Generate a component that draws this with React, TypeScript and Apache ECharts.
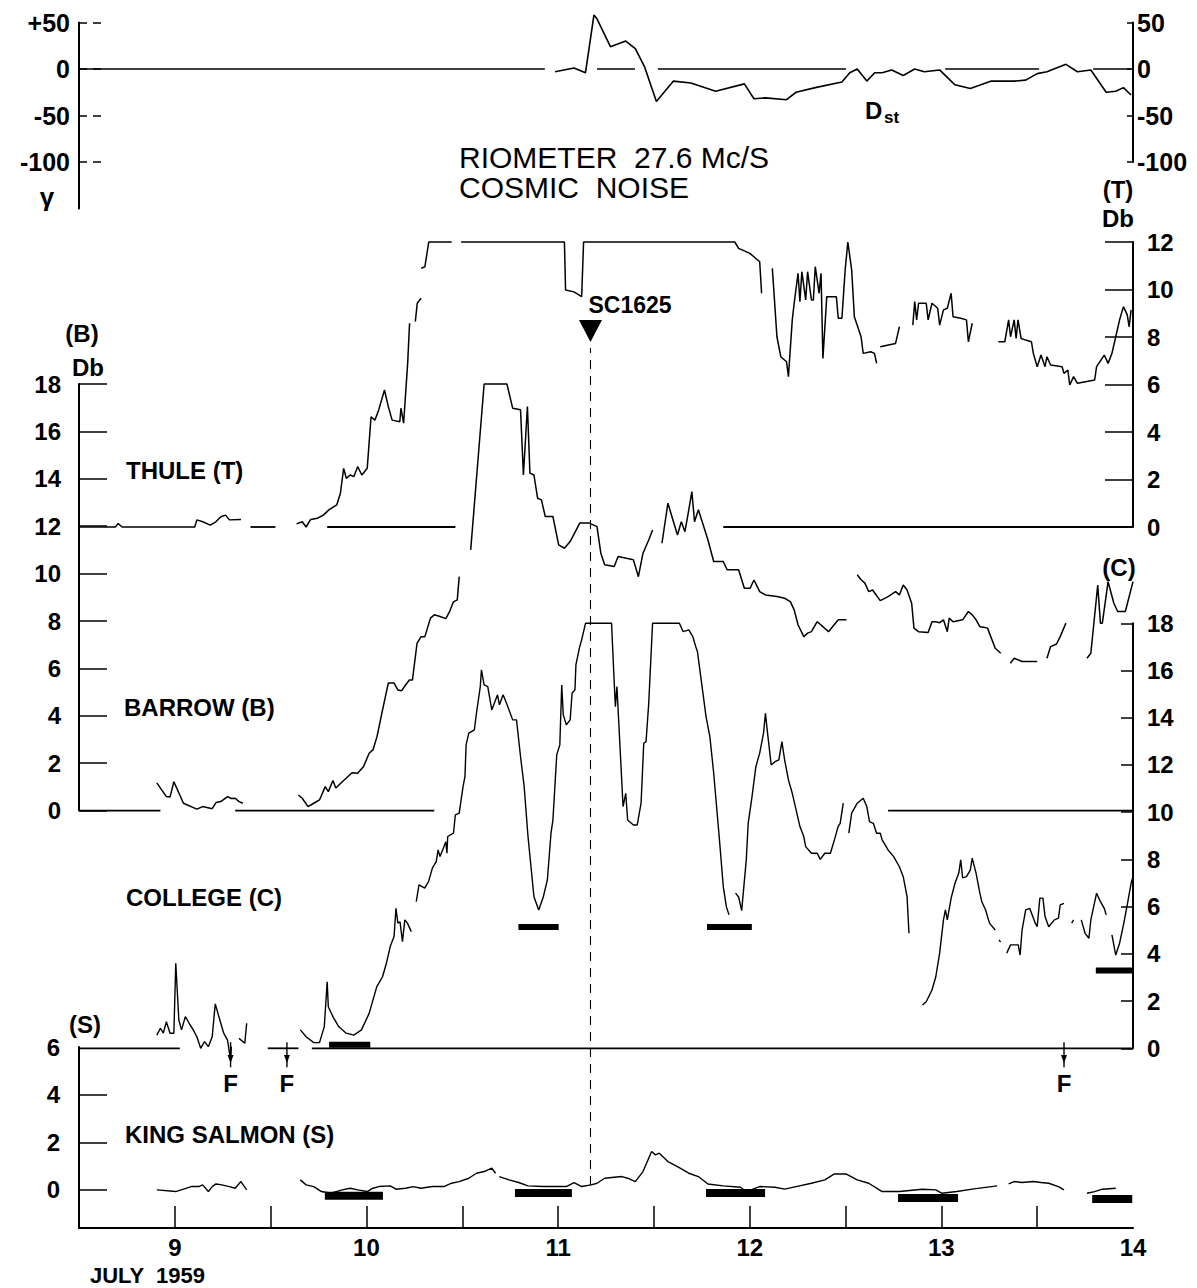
import React, { useEffect, useRef } from "react";
import * as echarts from "echarts";

// ---------- axes ----------
const X_MIN = 8.5;
const X_MAX = 14;
const dayTicks = [9, 9.5, 10, 10.5, 11, 11.5, 12, 12.5, 13, 13.5];
const dayLabels = [9, 10, 11, 12, 13, 14];
const dstTicks = [50, 0, -50, -100];
const thuleTicks = [0, 2, 4, 6, 8, 10, 12];
const barrowTicks = [0, 2, 4, 6, 8, 10, 12, 14, 16, 18];
const collegeTicks = [0, 2, 4, 6, 8, 10, 12, 14, 16, 18];
const salmonLabels = [0, 2, 4, 6];
const salmonTicks = [0, 2, 4];

// ---------- Dst (gamma) ----------
const dstSegments = [
  [[10.984, -3], [11.083, 1], [11.143, -4], [11.187, 58], [11.203, 54], [11.273, 24], [11.353, 30], [11.403, 22], [11.452, 2], [11.513, -35], [11.602, -13], [11.693, -15], [11.822, -24], [11.972, -16], [12.022, -32], [12.082, -31], [12.192, -33], [12.242, -25], [12.342, -20], [12.481, -14], [12.522, -4], [12.561, 0], [12.611, -13], [12.652, -4], [12.691, -4], [12.741, -1], [12.801, -7], [12.861, 0], [12.911, -3], [12.991, -1], [13.071, -17], [13.151, -21], [13.261, -13], [13.38, -13], [13.44, -12], [13.5, -5], [13.551, -3], [13.65, 5], [13.71, -3], [13.78, -1], [13.86, -25], [13.91, -24], [13.95, -20], [13.99, -28]],
];
const dstZero = [[8.5, 10.931], [11.203, 11.401], [11.521, 12.502], [13.02, 13.51], [13.792, 13.99]];

// ---------- Thule (T) ----------
const thuleSegments = [
  [[8.5, 0], [8.69, 0], [8.704, 0.15], [8.725, 0], [9.104, 0], [9.115, 0.3], [9.146, 0.22], [9.185, 0.08], [9.214, 0.22], [9.24, 0.43], [9.265, 0.5], [9.285, 0.3], [9.345, 0.32]],
  [[9.635, 0.13], [9.665, 0.22], [9.685, 0], [9.709, 0.32], [9.744, 0.37], [9.775, 0.5], [9.804, 0.72], [9.845, 0.93], [9.864, 1.42], [9.881, 2.47], [9.895, 2.05], [9.915, 2.19], [9.934, 2.12], [9.954, 2.54], [9.976, 2.19], [10.004, 2.47], [10.024, 4.64], [10.044, 4.5], [10.064, 4.93], [10.094, 5.77], [10.114, 5.07], [10.134, 4.5], [10.174, 4.43], [10.18, 5.0], [10.194, 4.37], [10.215, 6.89], [10.225, 8.58]],
  [[10.255, 8.65], [10.265, 9.42], [10.285, 9.63]],
  [[10.285, 10.89], [10.305, 10.96], [10.325, 12], [10.445, 12]],
  [[10.494, 12], [11.033, 12], [11.039, 9.98], [11.083, 9.9], [11.123, 9.7], [11.133, 12], [11.922, 12], [11.942, 11.73], [12.001, 11.52], [12.052, 11.17], [12.062, 9.84]],
  [[12.118, 10.89], [12.142, 8.01], [12.162, 7.17], [12.192, 6.96], [12.202, 6.33], [12.222, 8.72], [12.232, 9.42], [12.252, 10.68], [12.262, 9.49], [12.272, 10.75], [12.292, 9.56], [12.302, 10.75], [12.322, 9.56], [12.332, 9.56], [12.342, 10.96], [12.362, 9.84], [12.372, 10.68], [12.382, 7.1], [12.402, 9.7], [12.452, 9.7], [12.462, 8.79], [12.481, 8.79], [12.498, 10.82], [12.512, 12], [12.532, 10.82], [12.546, 8.85], [12.581, 8.01], [12.592, 7.31], [12.631, 7.38], [12.651, 7.31], [12.662, 6.89]],
  [[12.681, 7.59], [12.761, 7.73], [12.781, 8.43]],
  [[12.851, 8.5], [12.861, 9.49], [12.871, 8.72], [12.881, 9.42], [12.921, 9.42], [12.931, 8.72], [12.951, 9.42], [12.981, 9.21], [12.991, 8.5], [13.011, 9.14], [13.031, 9.21], [13.051, 9.84], [13.061, 8.85], [13.101, 8.79], [13.131, 8.72], [13.141, 7.8], [13.161, 8.58]],
  [[13.297, 7.8], [13.331, 7.8], [13.351, 8.72], [13.361, 8.01], [13.38, 8.72], [13.39, 7.94], [13.4, 8.72], [13.416, 7.94], [13.44, 7.87], [13.47, 7.8], [13.48, 7.31], [13.5, 6.75], [13.52, 7.24], [13.541, 6.75], [13.551, 7.17], [13.57, 6.82], [13.63, 6.75], [13.64, 6.47], [13.66, 6.61], [13.67, 5.98], [13.69, 6.33], [13.71, 6.05], [13.78, 6.16], [13.8, 6.19], [13.81, 6.75], [13.85, 7.24], [13.87, 6.89], [13.89, 7.31], [13.91, 8.01], [13.93, 8.72], [13.95, 9.28], [13.97, 8.93], [13.98, 8.43], [13.99, 9.14]],
];
const thuleBase = [[9.395, 9.525], [9.795, 10.464], [11.862, 14.0]];

// ---------- Barrow (B) ----------
const barrowSegments = [
  [[8.906, 1.17], [8.956, 0.59], [8.975, 0.57], [8.995, 1.22], [9.026, 0.66], [9.045, 0.31], [9.115, 0.06], [9.145, 0.17], [9.195, 0.08], [9.215, 0.34], [9.24, 0.38], [9.275, 0.59], [9.295, 0.51], [9.315, 0.52], [9.335, 0.38], [9.355, 0.31]],
  [[9.645, 0.66], [9.665, 0.52], [9.695, 0.17], [9.725, 0.31], [9.755, 0.45], [9.785, 1.01], [9.801, 0.8], [9.825, 1.27], [9.84, 0.95], [9.874, 1.22], [9.925, 1.6], [9.954, 1.58], [9.985, 1.86], [10.014, 2.42], [10.034, 2.56], [10.055, 3.12], [10.084, 4.25], [10.114, 5.38], [10.144, 5.38], [10.164, 5.09], [10.184, 5.06], [10.204, 5.3], [10.224, 5.51], [10.24, 5.51], [10.264, 7.06], [10.285, 7.34], [10.305, 7.34], [10.334, 8.12], [10.354, 8.26], [10.384, 8.19], [10.414, 8.1], [10.434, 8.4], [10.454, 8.81], [10.474, 8.89], [10.484, 9.87]],
  [[10.544, 11.0], [10.614, 18], [10.733, 18], [10.763, 16.98], [10.804, 16.91], [10.819, 14.16], [10.84, 17.05], [10.853, 14.24], [10.874, 14.16], [10.893, 13.18], [10.913, 13.11], [10.933, 12.41], [10.973, 12.41], [11.003, 11.21], [11.033, 11.07], [11.063, 11.35], [11.113, 12.13], [11.163, 12.13], [11.203, 11.98], [11.223, 10.86], [11.243, 10.37], [11.293, 10.3], [11.313, 10.72], [11.393, 10.58], [11.419, 9.87], [11.443, 10.86], [11.473, 11.42], [11.493, 11.84]],
  [[11.542, 11.28], [11.573, 12.97], [11.602, 12.19], [11.623, 11.63], [11.643, 12.19], [11.662, 11.77], [11.682, 12.69], [11.698, 13.46], [11.712, 12.19], [11.732, 12.69], [11.752, 12.19], [11.782, 11.42], [11.812, 10.51], [11.862, 10.51], [11.882, 10.16], [11.942, 10.16], [11.972, 9.38], [12.002, 9.38], [12.022, 9.73], [12.052, 9.24], [12.082, 9.1], [12.142, 9.03], [12.182, 8.96], [12.212, 8.82], [12.232, 8.47], [12.252, 7.84], [12.282, 7.34], [12.302, 7.49], [12.322, 7.55], [12.352, 7.97], [12.382, 7.76], [12.411, 7.55], [12.462, 8.05], [12.505, 8.05]],
  [[12.561, 9.95], [12.581, 9.74], [12.601, 9.6], [12.621, 9.24], [12.641, 9.31], [12.681, 8.86], [12.722, 9.03], [12.761, 9.24], [12.781, 9.1], [12.801, 9.52], [12.821, 9.31], [12.845, 8.75], [12.857, 7.7], [12.881, 7.55], [12.931, 7.51], [12.951, 7.97], [12.971, 7.97], [12.991, 7.93], [13.011, 8.05], [13.031, 7.55], [13.041, 8.12], [13.061, 7.97], [13.111, 8.05], [13.141, 8.4], [13.161, 8.26], [13.181, 8.05], [13.201, 7.76], [13.221, 7.74], [13.241, 7.7], [13.281, 6.85], [13.31, 6.64]],
  [[13.36, 6.22], [13.38, 6.43], [13.421, 6.29], [13.5, 6.29]],
  [[13.551, 6.43], [13.57, 6.92], [13.601, 7.03], [13.62, 7.34], [13.65, 7.91]],
  [[13.76, 6.43], [13.78, 6.64], [13.816, 9.52], [13.83, 7.91], [13.84, 7.91], [13.87, 9.66], [13.9, 8.75], [13.92, 8.4], [13.96, 8.4], [14.0, 9.66]],
];
const barrowBase = [[8.5, 8.925], [9.315, 10.354], [12.722, 14.0]];

// ---------- College (C) ----------
const collegeSegments = [
  [[8.906, 0.56], [8.925, 0.85], [8.94, 0.64], [8.956, 1.13], [8.975, 0.64], [8.995, 0.64], [9.005, 3.6], [9.021, 1.2], [9.035, 0.78], [9.055, 1.34], [9.075, 1.06], [9.096, 0.78], [9.115, 0.49], [9.135, 0], [9.155, 0.28], [9.175, 0.07], [9.195, 0.49], [9.211, 1.88], [9.235, 1.2], [9.255, 0.64], [9.275, 0.35], [9.291, -0.5], [9.295, 0.07]],
  [[9.335, 0.42], [9.365, 0.21], [9.375, 1.06]],
  [[9.655, 0.78], [9.685, 0.49], [9.725, 0.24], [9.755, 0.24], [9.78, 0.92], [9.795, 2.82], [9.801, 1.76], [9.825, 1.34], [9.855, 0.92], [9.894, 0.64], [9.934, 0.56], [9.974, 0.78], [10.014, 1.48], [10.054, 2.61], [10.084, 3.03], [10.104, 3.6], [10.124, 4.31], [10.144, 4.73], [10.154, 5.93], [10.164, 5.3], [10.175, 5.36], [10.188, 4.52], [10.2, 5.44], [10.214, 5.3], [10.234, 4.94]],
  [[10.26, 6.21], [10.274, 6.92], [10.304, 6.78], [10.324, 7.06], [10.344, 7.63], [10.364, 7.91], [10.374, 8.4], [10.384, 8.12], [10.404, 8.54], [10.414, 8.75], [10.42, 8.26], [10.424, 8.97], [10.454, 9.11], [10.464, 9.89], [10.484, 9.96], [10.504, 11.08], [10.514, 11.51], [10.52, 12.85], [10.534, 13.35], [10.563, 13.49], [10.574, 14.19], [10.594, 15.32], [10.6, 16.03], [10.614, 15.39], [10.633, 15.32], [10.654, 14.33], [10.684, 14.97], [10.694, 14.55], [10.713, 14.97], [10.734, 14.55], [10.763, 13.91], [10.783, 13.91], [10.804, 12.36], [10.823, 11.08], [10.843, 8.97], [10.874, 6.42], [10.899, 5.86], [10.923, 6.42], [10.944, 7.13], [10.963, 9.11], [10.973, 9.67], [10.993, 12.43], [11.009, 12.85], [11.019, 15.39], [11.027, 14.12], [11.043, 13.7], [11.063, 13.91], [11.073, 15.04], [11.088, 15.18], [11.093, 16.24], [11.113, 17.02], [11.123, 17.3], [11.143, 18], [11.279, 18], [11.293, 15.47], [11.299, 14.47], [11.307, 15.32], [11.323, 12.78], [11.339, 10.24], [11.353, 10.8], [11.363, 9.67], [11.393, 9.46], [11.413, 9.46], [11.433, 10.38], [11.447, 12.92], [11.459, 12.99], [11.473, 14.62], [11.493, 18], [11.633, 18], [11.652, 17.65], [11.682, 17.72], [11.703, 17.44], [11.718, 17.02], [11.727, 16.81], [11.742, 15.89], [11.772, 14.05], [11.792, 13.2], [11.812, 11.65], [11.842, 8.83], [11.862, 6.85], [11.878, 6.0], [11.892, 5.65]],
  [[11.926, 6.57], [11.942, 6.41], [11.958, 5.83], [11.982, 7.98], [11.992, 9.53], [12.012, 10.66], [12.032, 11.93], [12.052, 12.5], [12.072, 13.35], [12.082, 14.19], [12.092, 13.42], [12.112, 12.0], [12.132, 12.14], [12.152, 12.22], [12.168, 12.99], [12.182, 12.22], [12.202, 11.37], [12.222, 10.8], [12.242, 10.1], [12.262, 9.39], [12.282, 8.97], [12.292, 8.54], [12.322, 8.26], [12.352, 8.26], [12.368, 8.0], [12.392, 8.26], [12.421, 8.26], [12.442, 8.83], [12.461, 9.39], [12.472, 9.53], [12.488, 10.38]],
  [[12.517, 9.11], [12.532, 9.96], [12.561, 10.38], [12.592, 10.59], [12.611, 10.24], [12.625, 9.6], [12.645, 9.53], [12.662, 9.11], [12.681, 9.11], [12.691, 8.83], [12.722, 8.4], [12.751, 8.12], [12.781, 7.69], [12.801, 7.27], [12.821, 6.42], [12.831, 4.87]],
  [[12.901, 1.83], [12.921, 1.97], [12.951, 2.47], [12.971, 3.03], [12.991, 4.03], [13.011, 5.44], [13.021, 5.86], [13.031, 5.44], [13.051, 6.36], [13.071, 6.99], [13.091, 7.42], [13.101, 7.98], [13.111, 7.22], [13.131, 7.27], [13.151, 7.55], [13.161, 8.05], [13.181, 7.42], [13.201, 6.57], [13.211, 6.21], [13.231, 5.86], [13.251, 5.3], [13.281, 5.01]],
  [[13.301, 4.59], [13.309, 4.5]],
  [[13.341, 4.03], [13.361, 4.38], [13.401, 4.38], [13.411, 3.95], [13.421, 5.01], [13.44, 5.86], [13.461, 5.93], [13.49, 5.3], [13.5, 5.15], [13.514, 6.36], [13.53, 6.36], [13.541, 5.58], [13.56, 5.15], [13.59, 5.44], [13.611, 5.51], [13.62, 6.07], [13.64, 6.14]],
  [[13.68, 5.3], [13.69, 5.44]],
  [[13.73, 5.44], [13.75, 4.87], [13.77, 4.66], [13.78, 5.44], [13.81, 6.57], [13.83, 6.21], [13.85, 5.93], [13.86, 5.65]],
  [[13.89, 4.8], [13.91, 3.95], [13.93, 4.45], [13.95, 5.22], [13.97, 6.07], [13.99, 6.99], [14.0, 7.27]],
];
const collegeBase = [[8.5, 9.026], [9.485, 9.645], [9.715, 14.0]];
const collegeBars = [[9.805, 10.02, 0.15], [10.793, 11.003, 5.14], [11.777, 12.011, 5.14], [13.806, 14.0, 3.29]];

// ---------- King Salmon (S) ----------
const salmonSegments = [
  [[8.906, 0], [9.005, -0.07], [9.045, 0.03], [9.086, 0.14], [9.125, 0.14], [9.145, 0.21], [9.175, -0.07], [9.195, 0.14], [9.215, 0.25], [9.245, 0.21], [9.285, 0.14], [9.315, 0.07], [9.345, 0.35], [9.375, 0]],
  [[9.655, 0.42], [9.685, 0.21], [9.725, 0.14], [9.765, -0.07], [9.814, -0.14], [9.874, 0], [9.915, 0.07], [9.954, 0], [10.004, -0.07], [10.034, 0.07], [10.064, 0.14], [10.124, 0.17], [10.154, 0.03], [10.204, 0.07], [10.244, 0.14], [10.284, 0.07], [10.344, 0.14], [10.404, 0.14], [10.444, 0.28], [10.484, 0.35], [10.534, 0.49], [10.574, 0.7], [10.614, 0.77], [10.654, 0.91], [10.674, 0.7]],
  [[10.693, 0.56], [10.744, 0.42], [10.794, 0.31], [10.843, 0.17], [10.923, 0.14], [10.984, 0.14], [11.043, 0.14], [11.083, 0.31], [11.123, 0.14], [11.173, 0.21], [11.203, 0.28], [11.243, 0.49], [11.293, 0.53], [11.333, 0.56], [11.363, 0.49], [11.403, 0.35], [11.443, 0.77], [11.488, 1.61], [11.508, 1.47], [11.528, 1.54], [11.573, 1.19], [11.623, 0.98], [11.682, 0.7], [11.732, 0.56], [11.782, 0.25], [11.862, 0.17], [11.952, 0.11], [11.982, -0.07], [12.052, 0.14], [12.132, 0.11], [12.182, 0.03], [12.242, 0.14], [12.322, 0.28], [12.392, 0.42], [12.442, 0.67], [12.502, 0.67], [12.561, 0.42], [12.621, 0.28], [12.691, -0.07], [12.781, -0.07], [12.901, 0.03], [12.971, 0], [13.001, -0.14], [13.081, -0.07], [13.161, 0.03], [13.291, 0.17]],
  [[13.351, 0.25], [13.38, 0.35], [13.421, 0.31], [13.48, 0.35], [13.52, 0.31], [13.56, 0.28], [13.611, 0.14], [13.64, 0]],
  [[13.76, -0.14], [13.8, -0.07], [13.84, 0.03], [13.91, 0.07]],
];
const salmonBars = [[9.783, 10.086, -0.25], [10.775, 11.072, -0.13], [11.772, 12.08, -0.13], [12.774, 13.087, -0.34], [13.787, 13.996, -0.38]];

// ---------- events ----------
const SC_DAY = 11.169;
const SC_TRIANGLE_T = 8.25;
const SC_LABEL = [11.156, 9.35];
const fDays = [9.291, 9.585, 13.64];

const FONT = "Liberation Sans";
const BLACK = "#000";

function buildOption() {
  const L = 79;
  const R = 64;
  const grids = [
    { top: 22.5, height: 186 }, // 0 Dst left
    { top: 22.5, height: 139.5 }, // 1 Dst right
    { top: 242, height: 285 }, // 2 Thule
    { top: 384, height: 426.6 }, // 3 Barrow
    { top: 623.3, height: 425 }, // 4 College
    { top: 1047, height: 181 }, // 5 King Salmon
    { top: 348, height: 837 }, // 6 overlay (SC line)
  ].map((g) => ({ left: L, right: R, top: g.top, height: g.height, containLabel: false, show: false }));

  const labelStyle = { color: BLACK, fontFamily: FONT, fontWeight: "bold", fontSize: 24 };

  const xAxes = grids.map((_, i) => ({
    gridIndex: i,
    type: "value",
    min: X_MIN,
    max: X_MAX,
    show: i === 5,
    axisLine: { show: true, onZero: false, lineStyle: { color: BLACK, width: 2 } },
    axisTick: { show: true, inside: true, length: 22, customValues: dayTicks, lineStyle: { color: BLACK, width: 1.5 } },
    axisLabel: { show: true, customValues: dayLabels, margin: 7, showMinLabel: true, showMaxLabel: true, ...labelStyle, fontSize: 24 },
    splitLine: { show: false },
  }));

  const yBase = (gi, min, max, position, ticks, labels, tickLen, margin, extra = {}) => ({
    gridIndex: gi,
    type: "value",
    min,
    max,
    position,
    axisLine: { show: true, onZero: false, lineStyle: { color: BLACK, width: 2 } },
    axisTick: { show: true, inside: true, length: tickLen, customValues: ticks, lineStyle: { color: BLACK, width: 1.5, ...(extra.tickLine || {}) } },
    axisLabel: { show: true, customValues: labels, margin, showMinLabel: true, showMaxLabel: true, ...labelStyle, ...(extra.label || {}) },
    splitLine: { show: false },
  });

  const yAxes = [
    yBase(0, -150, 50, "left", dstTicks, dstTicks, 28, 9, {
      tickLine: { type: [8, 6] },
      label: { formatter: (v) => (v > 0 ? "+" + v : String(v)), fontSize: 25 },
    }),
    yBase(1, -100, 50, "right", dstTicks, dstTicks, 6, 4, { label: { fontSize: 25 } }),
    yBase(2, 0, 12, "right", thuleTicks, thuleTicks, 28, 14),
    yBase(3, 0, 18, "left", barrowTicks, barrowTicks, 28, 18),
    yBase(4, 0, 18, "right", collegeTicks, collegeTicks, 12, 14),
    yBase(5, -1.6, 6, "left", salmonTicks, salmonLabels, 28, 19),
    { gridIndex: 6, type: "value", min: 0, max: 1, show: false },
  ];

  const series = [];
  const addLine = (pts, gi, width, extra = {}) =>
    series.push({
      type: "line",
      xAxisIndex: gi,
      yAxisIndex: gi,
      data: pts,
      symbol: "none",
      showSymbol: false,
      clip: false,
      silent: true,
      lineStyle: { color: BLACK, width, opacity: 1, ...extra },
      z: 3,
    });

  dstZero.forEach(([a, b]) => addLine([[a, 0], [b, 0]], 0, 1.6));
  dstSegments.forEach((s) => addLine(s, 0, 1.6));

  thuleBase.forEach(([a, b]) => addLine([[a, 0], [b, 0]], 2, 1.8));
  thuleSegments.forEach((s) => addLine(s, 2, 1.5));

  barrowBase.forEach(([a, b]) => addLine([[a, 0], [b, 0]], 3, 1.8));
  barrowSegments.forEach((s) => addLine(s, 3, 1.5));

  collegeBase.forEach(([a, b]) => addLine([[a, 0], [b, 0]], 4, 1.8));
  collegeSegments.forEach((s) => addLine(s, 4, 1.4));
  collegeBars.forEach(([a, b, v]) => addLine([[a, v], [b, v]], 4, 6, { cap: "butt" }));

  salmonSegments.forEach((s) => addLine(s, 5, 1.4));
  salmonBars.forEach(([a, b, v]) => addLine([[a, v], [b, v]], 5, 8, { cap: "butt" }));

  // F markers (arrows + letters)
  fDays.forEach((d) => addLine([[d, 6.2], [d, 5.15]], 5, 1.4));
  series.push({
    type: "scatter",
    xAxisIndex: 5,
    yAxisIndex: 5,
    data: fDays.map((d) => [d, 5.5]),
    symbol: "triangle",
    symbolRotate: 180,
    symbolSize: [6, 8],
    itemStyle: { color: BLACK, opacity: 1 },
    silent: true,
    z: 4,
  });
  series.push({
    type: "scatter",
    xAxisIndex: 5,
    yAxisIndex: 5,
    data: fDays.map((d) => [d, 4.45]),
    symbolSize: 1,
    itemStyle: { color: "rgba(0,0,0,0)", opacity: 1 },
    label: { show: true, position: "inside", formatter: "F", ...labelStyle, fontSize: 24, opacity: 1 },
    silent: true,
    z: 4,
  });

  // SC marker
  addLine([[SC_DAY, 0], [SC_DAY, 1]], 6, 1.1, { type: [9, 7] });
  series.push({
    type: "scatter",
    xAxisIndex: 2,
    yAxisIndex: 2,
    data: [[SC_DAY, SC_TRIANGLE_T]],
    symbol: "triangle",
    symbolRotate: 180,
    symbolSize: [23, 22],
    itemStyle: { color: BLACK, opacity: 1 },
    silent: true,
    z: 5,
  });
  series.push({
    type: "scatter",
    xAxisIndex: 2,
    yAxisIndex: 2,
    data: [SC_LABEL],
    symbolSize: 1,
    itemStyle: { color: "rgba(0,0,0,0)", opacity: 1 },
    label: { show: true, position: "right", distance: 0, formatter: "SC1625", ...labelStyle, fontSize: 23, opacity: 1 },
    silent: true,
    z: 5,
  });

  const txt = (text, x, y, size, opts = {}) => ({
    type: "text",
    x,
    y,
    silent: true,
    z: 10,
    style: {
      text,
      fill: BLACK,
      fontSize: size,
      fontFamily: FONT,
      fontWeight: opts.weight || "bold",
      align: opts.align || "left",
      textAlign: opts.align || "left",
      verticalAlign: "middle",
      textVerticalAlign: "middle",
    },
  });

  const graphic = [
    txt("RIOMETER  27.6 Mc/S", 459, 157, 30, { weight: "normal" }),
    txt("COSMIC  NOISE", 459, 187, 30, { weight: "normal" }),
    txt("D", 865, 110, 24),
    txt("st", 884, 117, 17),
    txt("γ", 47, 197, 26, { align: "center" }),
    txt("(T)", 1118, 189, 24, { align: "center" }),
    txt("Db", 1118, 218, 24, { align: "center" }),
    txt("(B)", 82, 333, 24, { align: "center" }),
    txt("Db", 88, 367, 24, { align: "center" }),
    txt("(C)", 1119, 567, 24, { align: "center" }),
    txt("(S)", 85, 1024, 24, { align: "center" }),
    txt("THULE (T)", 126, 470, 24),
    txt("BARROW (B)", 124, 707, 24),
    txt("COLLEGE (C)", 126, 897, 24),
    txt("KING SALMON (S)", 125, 1134, 24),
    txt("JULY  1959", 90, 1275, 22),
  ];

  return {
    animation: false,
    backgroundColor: "#fff",
    textStyle: { fontFamily: FONT },
    grid: grids,
    xAxis: xAxes,
    yAxis: yAxes,
    series,
    graphic,
  };
}

export default function App() {
  const ref = useRef(null);
  useEffect(() => {
    if (!ref.current) return;
    const chart = echarts.init(ref.current, null, { renderer: "svg" });
    chart.setOption(buildOption());
    return () => chart.dispose();
  }, []);
  return (
    <div
      ref={ref}
      style={{ position: "absolute", left: 0, top: 0, width: 1197, height: 1288, background: "#fff" }}
    />
  );
}
